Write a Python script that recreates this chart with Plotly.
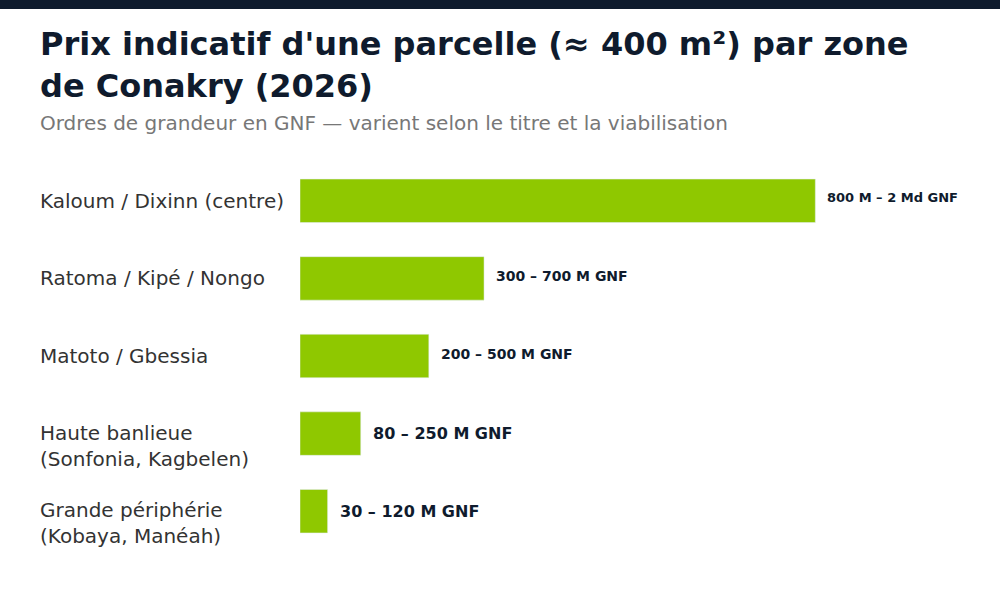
import plotly.graph_objects as go

zones = [
    "Kaloum / Dixinn (centre)",
    "Ratoma / Kipé / Nongo",
    "Matoto / Gbessia",
    "Haute banlieue<br>(Sonfonia, Kagbelen)",
    "Grande périphérie<br>(Kobaya, Manéah)",
]
# midpoint of each price range, in millions of GNF
prix_milieu = [1400, 500, 350, 165, 75]
etiquettes = [
    "800 M – 2 Md GNF",
    "300 – 700 M GNF",
    "200 – 500 M GNF",
    "80 – 250 M GNF",
    "30 – 120 M GNF",
]

NAVY = "#0f1b2d"
GREEN = "#8fc800"
FONT = "DejaVu Sans"

# plot area in pixels: top 162, height 388
def py(px):
    return 1 + (162 - px) / 388


fig = go.Figure()
fig.add_trace(
    go.Bar(
        x=prix_milieu,
        y=zones,
        orientation="h",
        marker=dict(color=GREEN),
        hoverinfo="skip",
    )
)

# zone names, left aligned at the page margin
for z in zones:
    fig.add_annotation(
        x=-0.3975, xref="paper", y=z, yref="y",
        text=z, showarrow=False,
        xanchor="left", yanchor="middle", align="left",
        yshift=-12 if "<br>" in z else 0,
        font=dict(family=FONT, size=20, color="#333333"),
    )

# range labels at the end of each bar (the long ones are set smaller)
tailles = [13, 14, 14, 16, 16]
for val, z, lab, s in zip(prix_milieu, zones, etiquettes, tailles):
    fig.add_annotation(
        x=val, xref="x", y=z, yref="y",
        text="<b>" + lab + "</b>", showarrow=False,
        xanchor="left", yanchor="middle",
        xshift=10, yshift=16 - s,
        font=dict(family=FONT, size=s, color=NAVY),
    )

fig.add_annotation(
    x=-0.397, xref="paper", y=py(65), yref="paper",
    text="<b>Prix indicatif d'une parcelle (≈ 400 m²) par zone<br>de Conakry (2026)</b>",
    showarrow=False, xanchor="left", yanchor="middle", align="left",
    font=dict(family=FONT, size=32, color=NAVY),
)
fig.add_annotation(
    x=-0.397, xref="paper", y=py(123), yref="paper",
    text="Ordres de grandeur en GNF — varient selon le titre et la viabilisation",
    showarrow=False, xanchor="left", yanchor="middle",
    font=dict(family=FONT, size=20, color="#777777"),
)

# dark strip along the top edge
fig.add_shape(
    type="rect", xref="paper", yref="paper",
    x0=-1, x1=2, y0=py(9), y1=1.6,
    line_width=0, fillcolor=NAVY,
)

fig.update_layout(
    width=1000,
    height=600,
    paper_bgcolor="white",
    plot_bgcolor="white",
    margin=dict(l=300, r=40, t=162, b=50),
    bargap=0.44,
    showlegend=False,
    xaxis=dict(range=[0, 1793], visible=False),
    yaxis=dict(autorange="reversed", showticklabels=False, showgrid=False, zeroline=False),
)

fig.write_html(
    "out.html",
    config={"displayModeBar": False},
    post_script="document.body.style.margin='0';",
)
